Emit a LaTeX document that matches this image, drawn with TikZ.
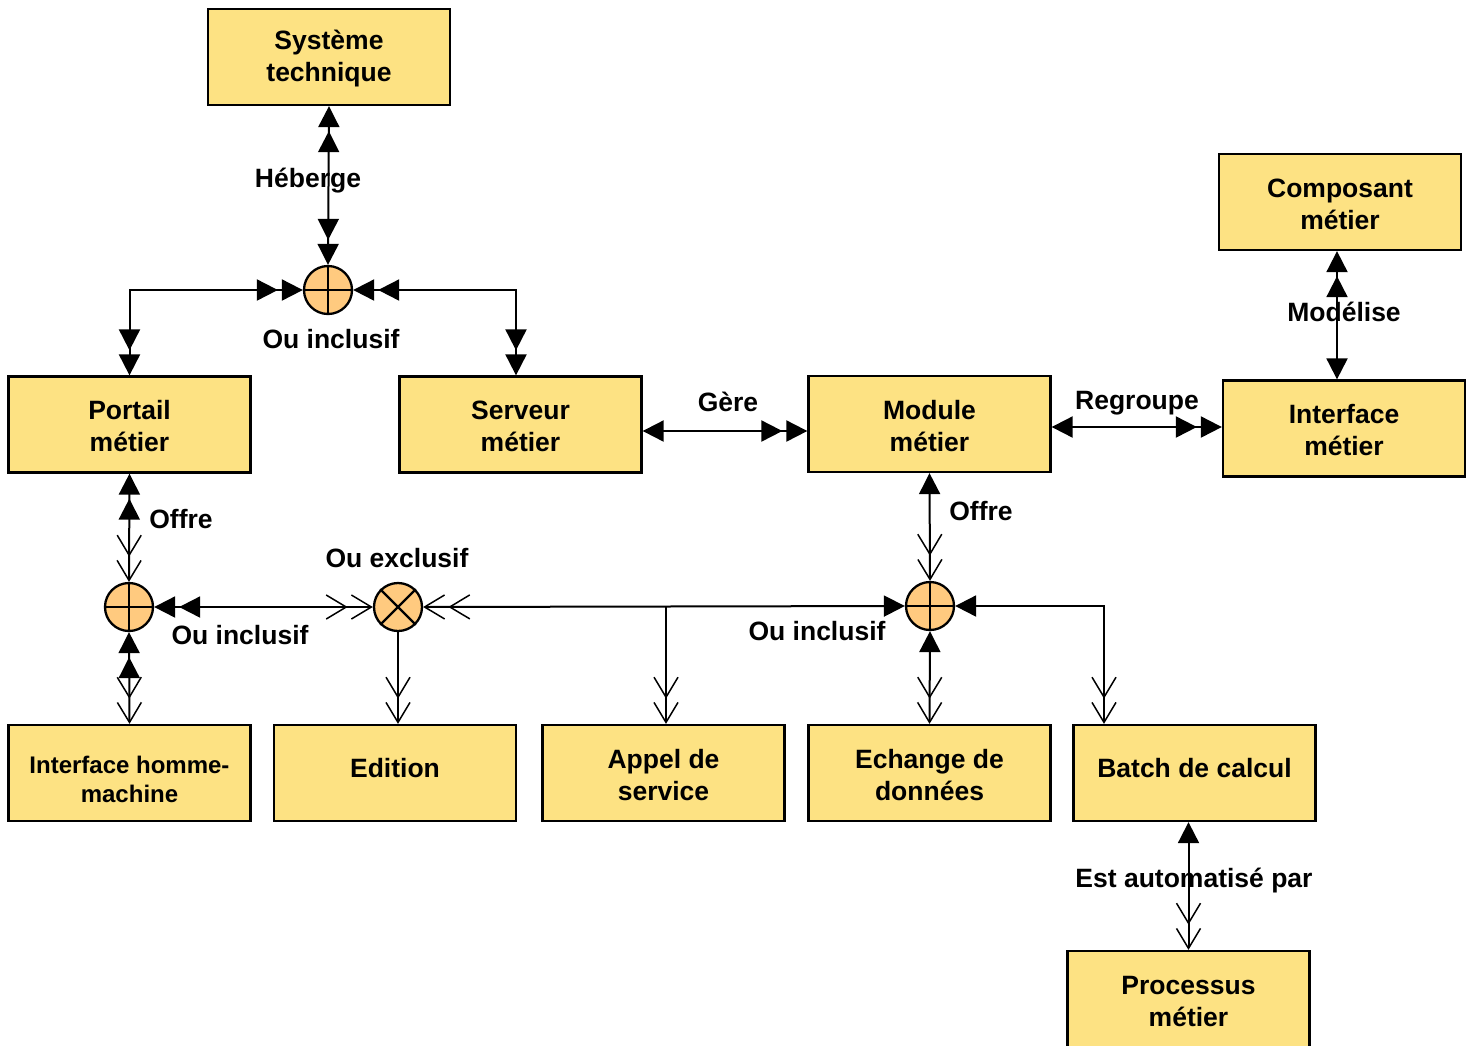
\documentclass[tikz,border=0pt]{standalone}
\usepackage{fontspec}
\setmainfont{Liberation Sans}
\usetikzlibrary{arrows.meta}
\definecolor{boxfill}{HTML}{FDE283}
\definecolor{circfill}{HTML}{FFCA7F}
\begin{document}
\begin{tikzpicture}[x=1pt,y=-1pt,
  box/.style={draw, line width=2.3pt, fill=boxfill, minimum width=242pt, minimum height=96pt, inner sep=0pt},
  bt/.style={align=center, inner sep=0pt, yshift=-2pt, font=\bfseries\fontsize{26.5}{32}\selectfont},
  bt1/.style={bt, yshift=7pt},
  btsmall/.style={bt, yshift=-4pt, font=\bfseries\fontsize{24}{29}\selectfont},
  gate/.style={draw, circle, line width=2.3pt, fill=circfill, minimum size=48pt, inner sep=0pt},
  lbl/.style={anchor=base, inner sep=0pt, font=\bfseries\fontsize{26.5}{31.5}\selectfont},
  conn/.style={line width=2pt},
  ft/.tip={Triangle[length=21pt,width=21pt]},
  fft/.tip={Triangle[length=21pt,width=21pt,sep=4pt]Triangle[length=21pt,width=21pt]},
  vv/.tip={Straight Barb[length=20pt,width=24pt,line width=1.5pt,sep=3pt]Straight Barb[length=20pt,width=24pt,line width=1.5pt]}
]
\useasboundingbox (0,0) rectangle (1471,1045);
\fill[white] (0,0) rectangle (1471,1045);

% boxes
\node[box, label={[bt]center:{Système\\technique}}] (sys) at (329,57) {};
\node[box, label={[bt]center:{Composant\\métier}}] (comp) at (1340,202) {};
\node[box, label={[bt]center:{Portail\\métier}}] (portail) at (129.5,424.5) {};
\node[box, label={[bt]center:{Serveur\\métier}}] (serveur) at (520.5,424.5) {};
\node[box, label={[bt]center:{Module\\métier}}] (module) at (929.5,424) {};
\node[box, label={[bt]center:{Interface\\métier}}] (imet) at (1344,428.5) {};
\node[box, label={[btsmall]center:{Interface homme-\\machine}}] (ihm) at (129.5,773) {};
\node[box, label={[bt1]center:{Edition}}] (edition) at (395,773) {};
\node[box, label={[bt]center:{Appel de\\service}}] (appel) at (663.5,773) {};
\node[box, label={[bt]center:{Echange de\\données}}] (echange) at (929.5,773) {};
\node[box, label={[bt1]center:{Batch de calcul}}] (batch) at (1194.5,773) {};
\node[box, label={[bt]center:{Processus\\métier}}] (proc) at (1188.5,999) {};

% gates
\node[gate] (tc) at (328,290) {};
\node[gate] (lc) at (129,607) {};
\node[gate] (xc) at (398,607) {};
\node[gate] (rc) at (930,606) {};
\foreach \g in {tc,lc,rc}{
  \draw[line width=2.3pt] (\g.north) -- (\g.south) (\g.west) -- (\g.east);
}
\draw[line width=2.3pt] (xc.north west) -- (xc.south east) (xc.north east) -- (xc.south west);

% coordinates
\coordinate (srvtop) at ([xshift=-4.5pt]serveur.north);
\coordinate (g1) at ([yshift=-6.5pt]serveur.east);
\coordinate (r1) at ([yshift=-3pt]module.east);
\coordinate (m1) at ([xshift=-3pt]comp.south);
\coordinate (br) at (666,607);
\coordinate (btop) at ([xshift=-90.5pt]batch.north);

% connectors
\draw[conn,fft-fft] (sys.south) -- (tc.north);
\draw[conn,fft-fft] (tc.west) -| (portail.north);
\draw[conn,fft-fft] (tc.east) -| (srvtop);
\draw[conn,ft-fft] (g1) -- (g1 -| module.west);
\draw[conn,ft-fft] (r1) -- (r1 -| imet.west);
\draw[conn,fft-ft] (m1) -- (m1 |- imet.north);
\draw[conn,fft-vv] (portail.south) -- (lc.north);
\draw[conn,fft-vv] (lc.south) -- (ihm.north);
\draw[conn,fft-vv] (lc.east) -- (xc.west);
\draw[conn,vv-ft] (xc.east) -- (rc.west);
\draw[conn,-vv] (br) -- (br |- appel.north);
\draw[conn,-vv] (xc.south) -- (xc.south |- edition.north);
\draw[conn,ft-vv] (module.south) -- (rc.north);
\draw[conn,ft-vv] (rc.south) -- (echange.north);
\draw[conn,ft-vv] (rc.east) -| (btop);
\draw[conn,vv-ft] (proc.north) -- (proc.north |- batch.south);

% labels
\node[lbl] (l1) at (308,187) {Héberge};
\node[lbl] (l2) at (331,348) {Ou inclusif};
\node[lbl] (l3) at (728,411) {Gère};
\node[lbl] (l4) at (1137,409) {Regroupe};
\node[lbl] (l5) at (1344,321) {Modélise};
\node[lbl] (l6) at (181,528) {Offre};
\node[lbl] (l7) at (397,567) {Ou exclusif};
\node[lbl] (l8) at (240,644) {Ou inclusif};
\node[lbl] (l9) at (981,520) {Offre};
\node[lbl] (l10) at (817,640) {Ou inclusif};
\node[lbl] (l11) at (1194,887) {Est automatisé par};
\end{tikzpicture}
\end{document}
